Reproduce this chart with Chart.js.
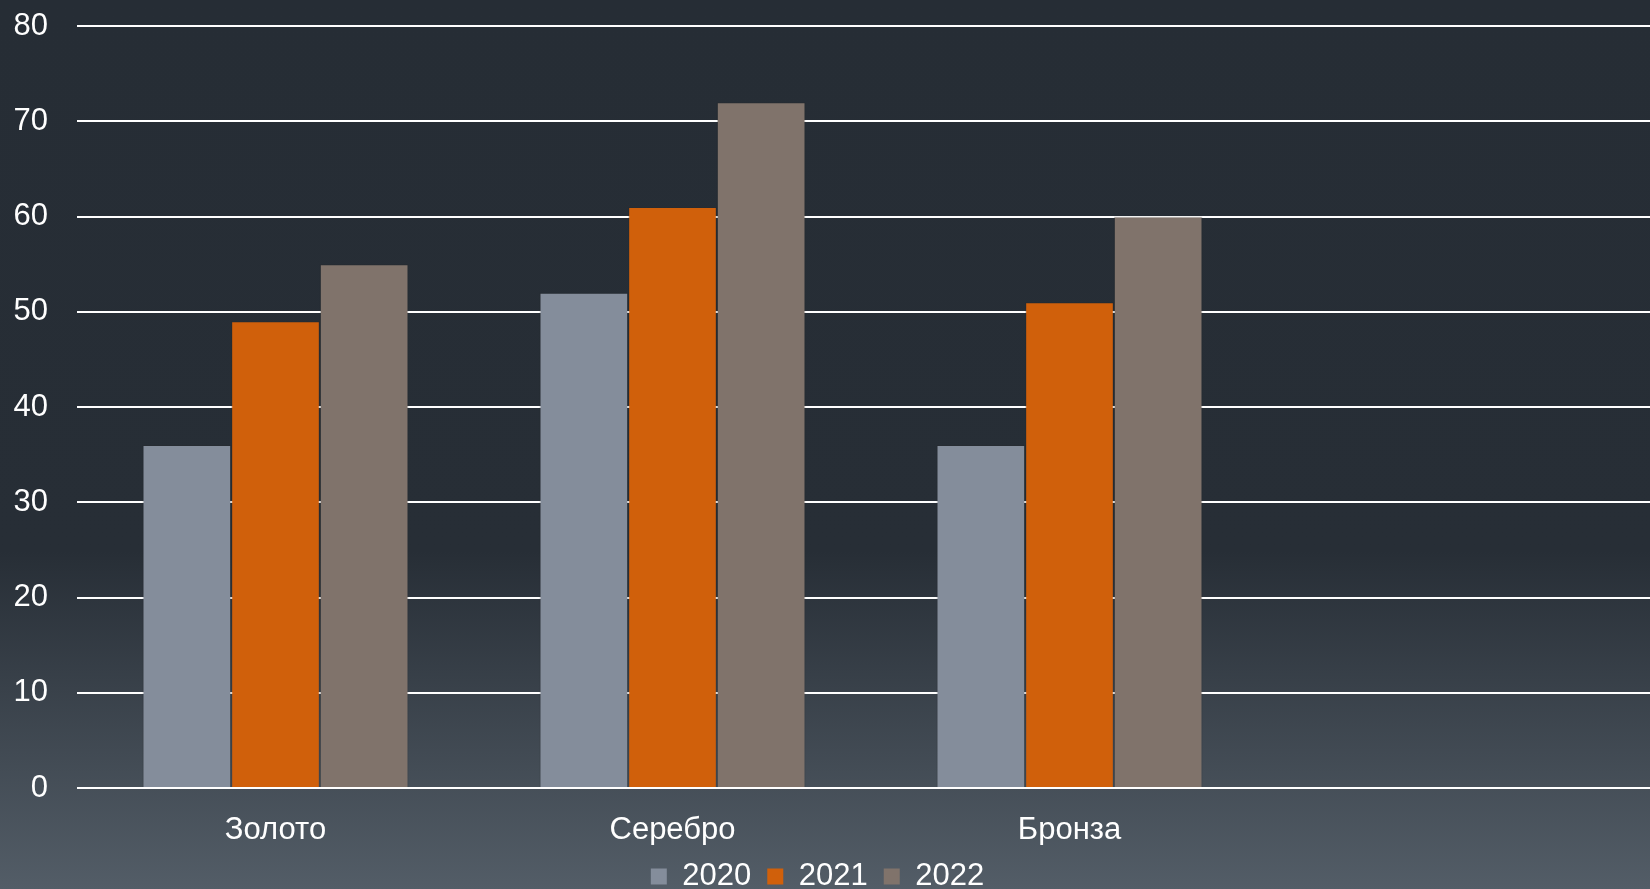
<!DOCTYPE html>
<html>
<head>
<meta charset="utf-8">
<script src="https://cdn.jsdelivr.net/npm/chart.js@4/dist/chart.umd.min.js"></script>
<style>
  html, body { margin: 0; padding: 0; overflow: hidden; background: #262d35; width: 1650px; height: 889px; }
  canvas { display: block; margin-left: -30px; }
</style>
</head>
<body>
<canvas id="c" width="1695" height="902"></canvas>
<script>
const categories = ['Золото', 'Серебро', 'Бронза', ''];
const seriesNames = ['2020', '2021', '2022'];
const values2020 = [36, 52, 36, null];
const values2021 = [49, 61, 51, null];
const values2022 = [55, 72, 60, null];
const seriesColors = ['#848d9b', '#d0600b', '#80736b'];
const yTicks = [0, 10, 20, 30, 40, 50, 60, 70, 80];

const FONT = "'Liberation Sans', Arial, sans-serif";

const bgPlugin = {
  id: 'bg',
  beforeDraw(chart) {
    const ctx = chart.ctx;
    const g = ctx.createLinearGradient(0, 0, 0, 889);
    g.addColorStop(0, '#262d35');
    g.addColorStop(0.62, '#272e36');
    g.addColorStop(1, '#535d67');
    ctx.save();
    ctx.fillStyle = g;
    ctx.fillRect(0, 0, chart.width, chart.height);
    ctx.restore();
  }
};

const seriesData = [values2020, values2021, values2022];
new Chart(document.getElementById('c'), {
  type: 'bar',
  data: {
    labels: categories,
    datasets: seriesNames.map((n, i) => ({
      label: n,
      data: seriesData[i],
      backgroundColor: seriesColors[i],
      borderColor: 'rgba(40,40,40,0.25)',
      borderWidth: 1,
      categoryPercentage: 0.67,
      barPercentage: 1.0
    }))
  },
  options: {
    responsive: false,
    animation: false,
    devicePixelRatio: 1,
    layout: { padding: { top: 26, left: 0, right: 0, bottom: 0 } },
    plugins: {
      tooltip: { enabled: false },
      legend: {
        position: 'bottom',
        labels: {
          color: '#ffffff',
          font: { family: FONT, size: 31 },
          boxWidth: 16,
          boxHeight: 16,
          padding: 16,
          generateLabels(chart) {
            const items = Chart.defaults.plugins.legend.labels.generateLabels(chart);
            items.forEach(it => { it.lineWidth = 0; it.strokeStyle = 'rgba(0,0,0,0)'; });
            return items;
          }
        }
      }
    },
    scales: {
      x: {
        grid: { display: false, drawTicks: false },
        border: { display: false },
        ticks: { color: '#ffffff', font: { family: FONT, size: 31 }, padding: 24 },
        afterFit(scale) { scale.height = 57; scale.paddingLeft = 0; scale.paddingRight = 0; }
      },
      y: {
        min: 0,
        max: 80,
        afterBuildTicks(scale) { scale.ticks = yTicks.map(v => ({ value: v })); },
        grid: { color: '#ffffff', lineWidth: 2, drawTicks: false },
        border: { display: false },
        ticks: { color: '#ffffff', font: { family: FONT, size: 31 }, padding: 29 },
        afterFit(scale) { scale.width = 107; scale.paddingTop = 0; scale.paddingBottom = 0; }
      }
    }
  },
  plugins: [bgPlugin]
});
</script>
</body>
</html>
